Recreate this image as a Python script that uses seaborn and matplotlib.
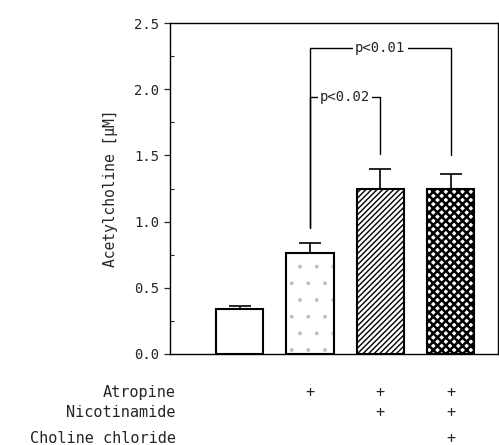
import matplotlib
matplotlib.use("Agg")
import seaborn as sns
import matplotlib.pyplot as plt
import matplotlib.patches as patches
import matplotlib.transforms as mtransforms
from matplotlib.ticker import MultipleLocator

# data
groups = ["control", "atropine", "atr+nic", "atr+nic+chol"]
means = [0.34, 0.76, 1.25, 1.25]
sem = [0.02, 0.08, 0.15, 0.11]
hatches = ["", ".", "//////", "xxxx"]
hatch_colors = ["black", "#bdbdbd", "black", "black"]
hatch_widths = [0.9, 0.3, 1.0, 1.8]

treatments = ["Atropine", "Nicotinamide", "Choline chloride"]
given = [
    [0, 1, 1, 1],
    [0, 0, 1, 1],
    [0, 0, 0, 1],
]
row_y = [-0.115, -0.178, -0.254]

# significance brackets: (left bar, right bar, top, left foot, right foot, label)
brackets = [
    (1, 3, 2.31, 0.95, 1.50, "p<0.01"),
    (1, 2, 1.94, 0.95, 1.51, "p<0.02"),
]

sns.set_style("ticks")
plt.rcParams["font.family"] = ["DejaVu Sans Mono"]
plt.rcParams["hatch.linewidth"] = 0.9

fig = plt.figure(figsize=(4.99, 4.45), dpi=100)
ax = fig.add_axes([0.3407, 0.2045, 0.657, 0.7438])

sns.barplot(x=groups, y=means, order=groups, color="white", edgecolor="black",
            linewidth=1.5, width=0.67, errorbar=None, ax=ax, saturation=1)

# hatch colour follows the edge colour, so colour the hatch via the edge
# and redraw a black outline on top of the same bar
for p, h, hc, hw in zip(list(ax.patches), hatches, hatch_colors, hatch_widths):
    p.set_facecolor("white")
    p.set_hatch(h)
    p.set_edgecolor(hc)
    try:
        p.set_hatch_linewidth(hw)
    except AttributeError:
        pass
    if hc != "black":
        ax.add_patch(patches.Rectangle((p.get_x(), p.get_y()), p.get_width(),
                                       p.get_height(), fill=False,
                                       edgecolor="black", linewidth=1.5,
                                       zorder=p.get_zorder() + 0.1))

ax.errorbar(range(len(groups)), means, yerr=[[0] * len(sem), sem], fmt="none",
            ecolor="black", elinewidth=1.2, capsize=8, capthick=1.2, zorder=1)

for left, right, top, lfoot, rfoot, label in brackets:
    ax.plot([left, left, right, right], [lfoot, top, top, rfoot],
            color="black", lw=1.0, zorder=3)
    ax.text((left + right) / 2, top, label, ha="center", va="center",
            fontsize=10, zorder=4,
            bbox=dict(facecolor="white", edgecolor="none", pad=1.5))

ax.set_xlim(-0.99, 3.67)
ax.set_ylim(0, 2.5)
ax.set_xticks([])
ax.set_xlabel("")
ax.yaxis.set_minor_locator(MultipleLocator(0.25))
ax.set_yticks([0, 0.5, 1.0, 1.5, 2.0, 2.5])
ax.set_yticklabels(["0.0", "0.5", "1.0", "1.5", "2.0", "2.5"], fontsize=10)
ax.tick_params(axis="y", which="major", direction="out", length=4, width=0.9)
ax.tick_params(axis="y", which="minor", direction="in", length=3, width=0.8)
ax.set_ylabel("Acetylcholine [\u03bcM]", fontsize=10.5, labelpad=12)
for s in ax.spines.values():
    s.set_visible(True)
    s.set_linewidth(1.0)
    s.set_color("black")

trans = mtransforms.blended_transform_factory(ax.transData, ax.transAxes)
for name, row, y in zip(treatments, given, row_y):
    ax.text(0.018, y, name, transform=ax.transAxes, ha="right", va="center",
            fontsize=11, clip_on=False)
    for i, flag in enumerate(row):
        if flag:
            ax.text(i, y, "+", transform=trans, ha="center", va="center",
                    fontsize=11, clip_on=False)

fig.savefig("out.png", dpi=100)
